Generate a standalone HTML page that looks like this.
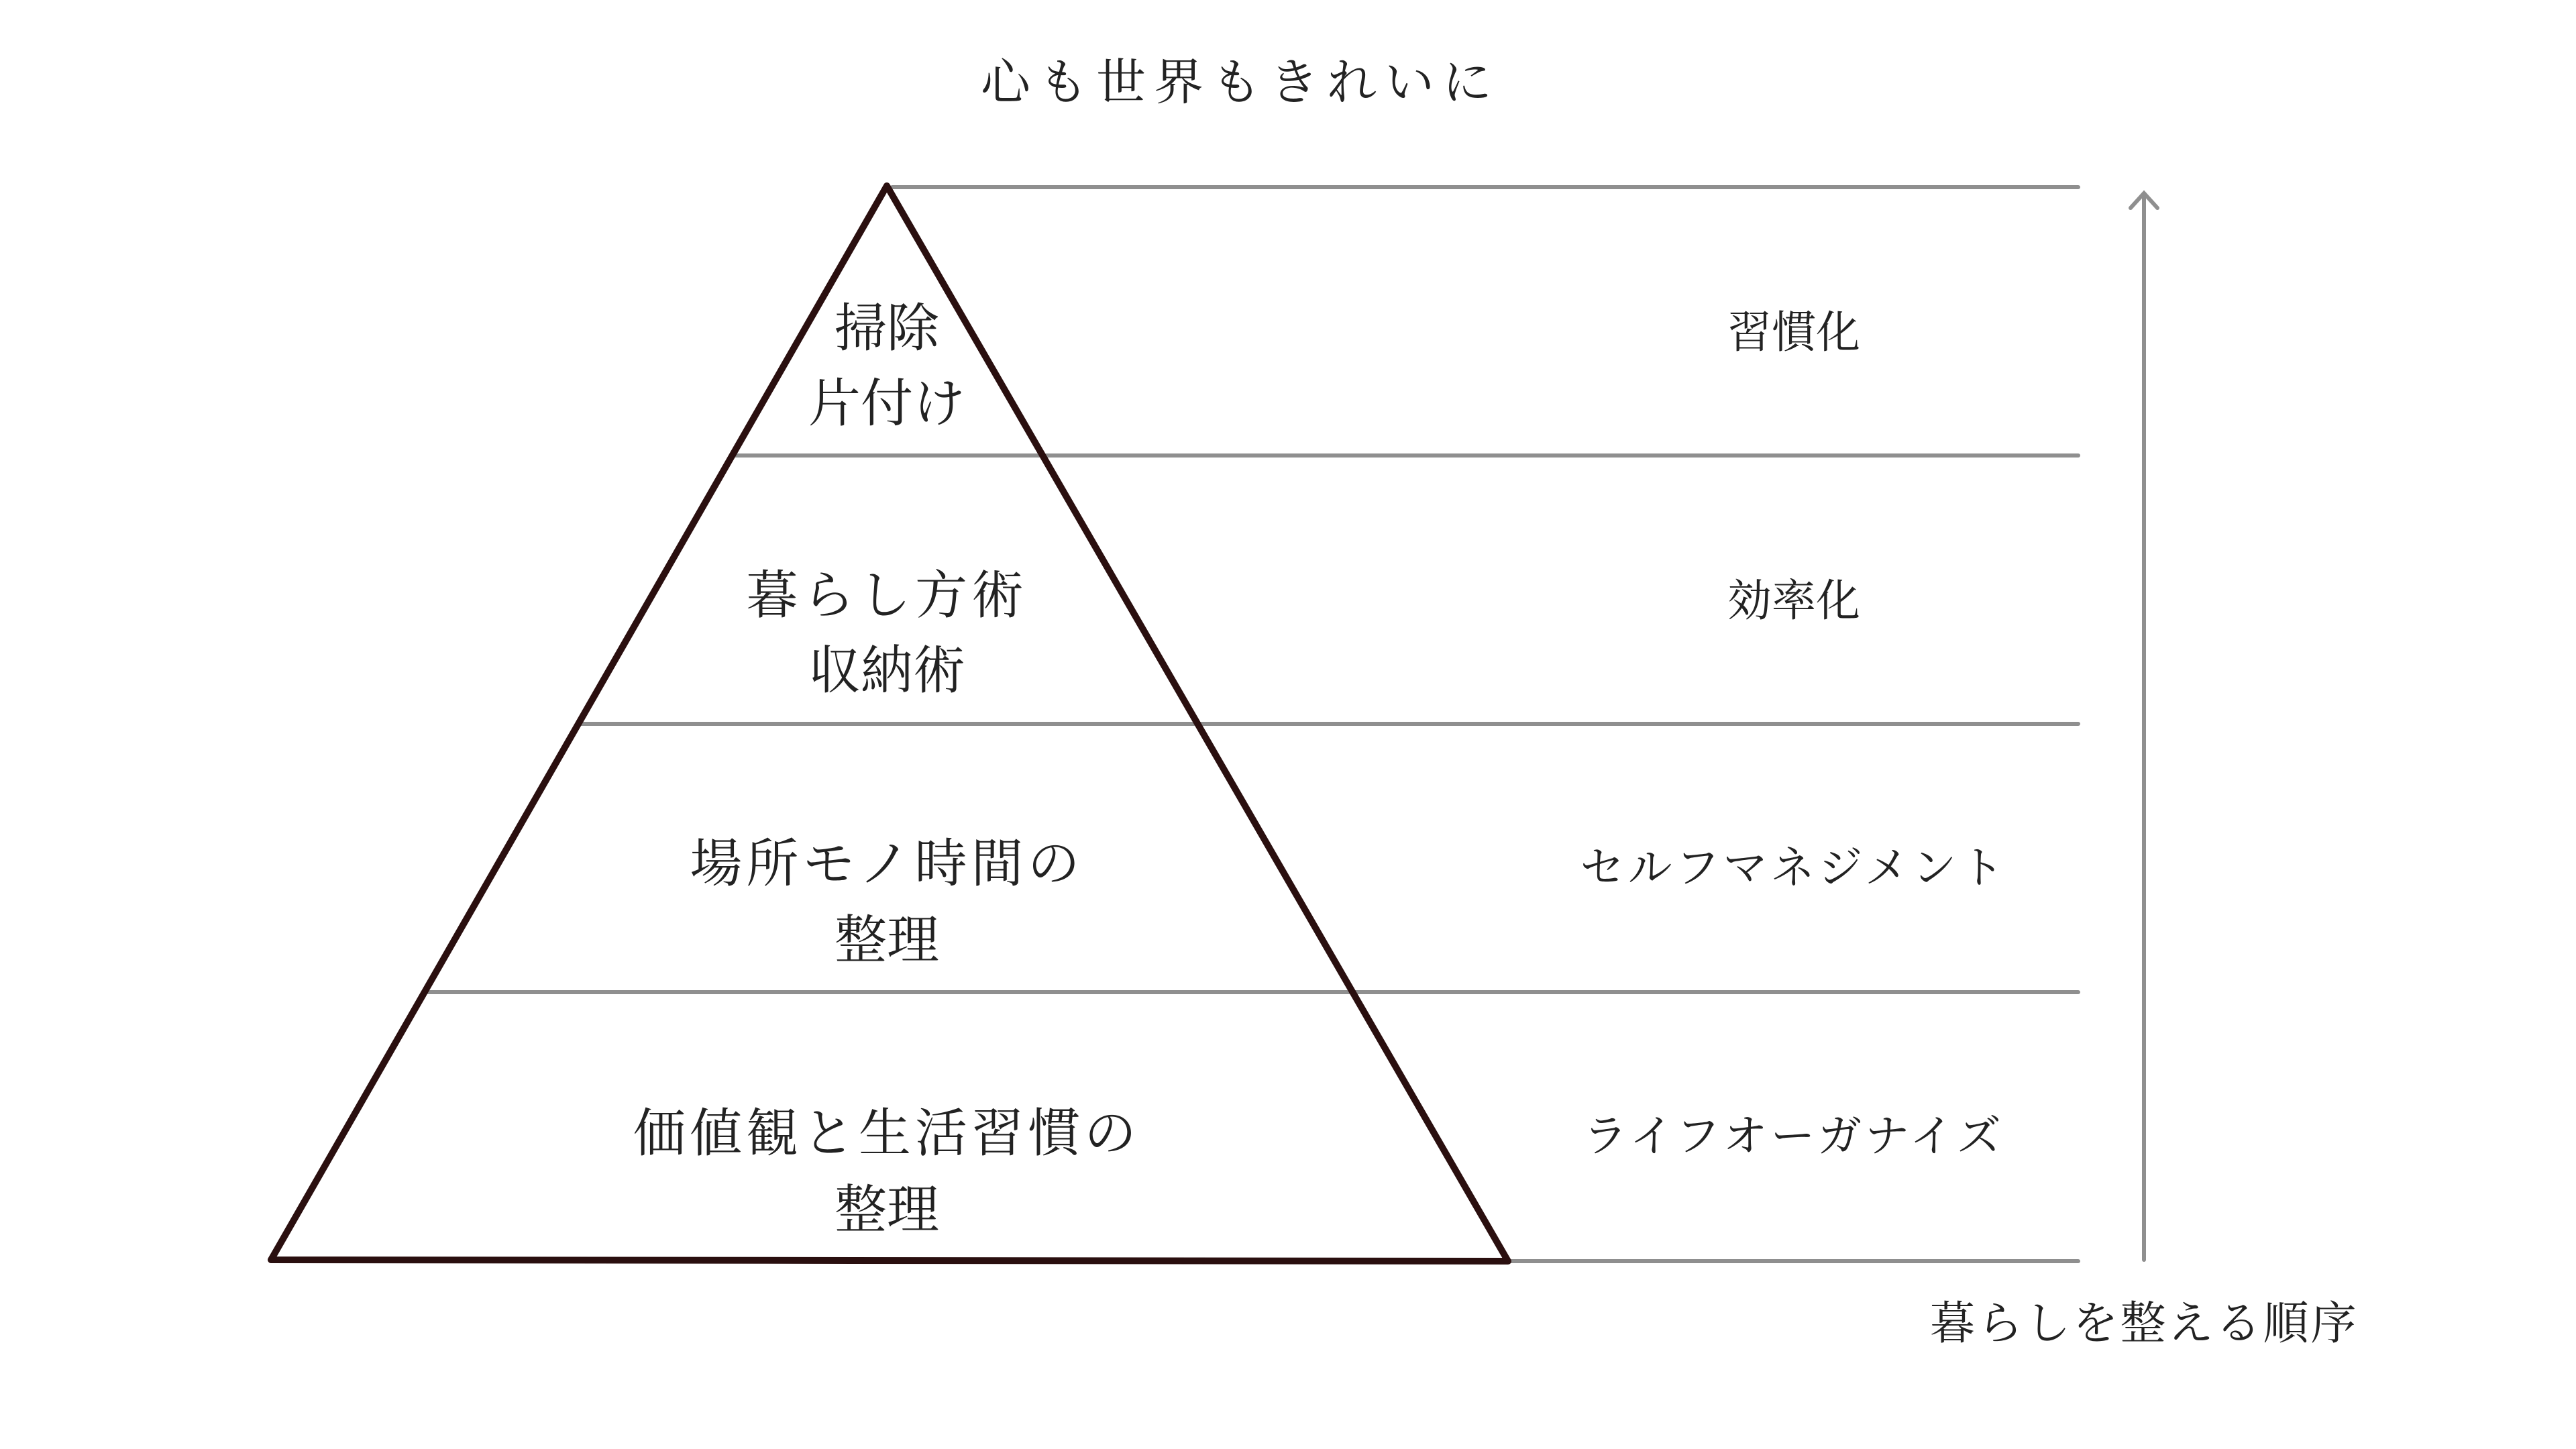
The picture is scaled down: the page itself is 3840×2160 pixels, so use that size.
<!DOCTYPE html>
<html><head><meta charset="utf-8"><style>
html,body{margin:0;padding:0;background:#fff;}
svg{display:block;}
text{font-family:"Liberation Serif","Noto Serif CJK SC",serif;fill:#222;}
</style></head><body>
<svg width="3840" height="2160" viewBox="0 0 3840 2160" xmlns="http://www.w3.org/2000/svg">
<text x="1849" y="148" font-size="74" text-anchor="middle" letter-spacing="12">心も世界もきれいに</text>
<g stroke="#8f8f8f" stroke-width="6" fill="none" stroke-linecap="round">
<line x1="1330" y1="279" x2="3098" y2="279"/>
<line x1="1092" y1="679" x2="3098" y2="679"/>
<line x1="863" y1="1079" x2="3098" y2="1079"/>
<line x1="633" y1="1479" x2="3098" y2="1479"/>
<line x1="2248" y1="1880" x2="3098" y2="1880"/>
<line x1="3196" y1="1878" x2="3196" y2="290"/>
<polyline points="3176,310 3196,288 3216,310"/>
</g>
<polygon points="1322,277 404,1878 2248,1880" fill="none" stroke="#2a0f0f" stroke-width="10" stroke-linejoin="round"/>
<g font-size="78" text-anchor="middle">
<text x="1322" y="516">掃除</text>
<text x="1322" y="628">片付け</text>
<text x="1322" y="914" letter-spacing="6">暮らし方術</text>
<text x="1322" y="1026">収納術</text>
<text x="1322" y="1314" letter-spacing="6">場所モノ時間の</text>
<text x="1322" y="1428">整理</text>
<text x="1322" y="1716" letter-spacing="6">価値観と生活習慣の</text>
<text x="1322" y="1830">整理</text>
</g>
<g font-size="66" text-anchor="middle">
<text x="2674" y="518">習慣化</text>
<text x="2674" y="918">効率化</text>
<text x="2674" y="1316" letter-spacing="5">セルフマネジメント</text>
<text x="2674" y="1716" letter-spacing="5">ライフオーガナイズ</text>
</g>
<text x="3196" y="1996" font-size="68" text-anchor="middle" letter-spacing="3">暮らしを整える順序</text>
</svg>
</body></html>
